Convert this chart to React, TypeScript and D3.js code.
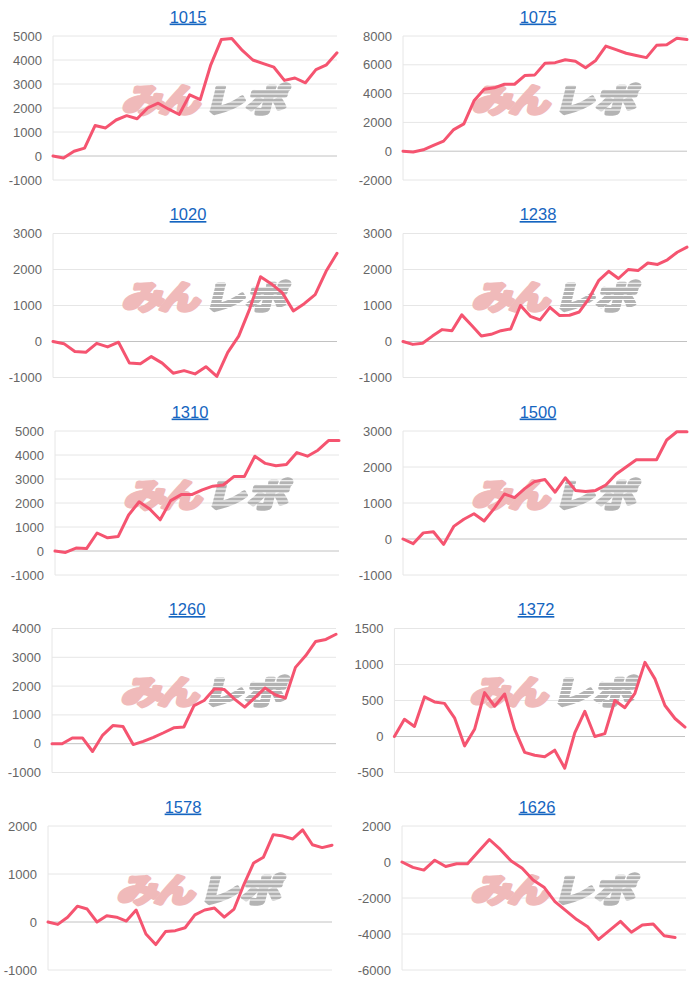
import React from "react";
import * as d3 from "d3";

const W = 700;
const H = 987;

const titles = ["1015", "1075", "1020", "1238", "1310", "1500", "1260", "1372", "1578", "1626"];

const s1015 = [0, -80, 200, 330, 1270, 1170, 1500, 1680, 1550, 2000, 2200, 1950, 1730, 2550, 2350, 3800, 4850, 4900, 4400, 4000, 3850, 3700, 3150, 3250, 3050, 3600, 3800, 4300];
const s1075 = [0, -50, 100, 400, 700, 1500, 1900, 3500, 4300, 4400, 4650, 4650, 5250, 5300, 6100, 6150, 6350, 6250, 5800, 6300, 7300, 7050, 6800, 6650, 6500, 7350, 7400, 7850, 7750];
const s1020 = [0, -60, -280, -300, -50, -150, -20, -600, -620, -420, -600, -880, -810, -900, -700, -970, -300, 150, 900, 1800, 1600, 1350, 850, 1050, 1300, 1950, 2450];
const s1238 = [0, -80, -50, 150, 330, 300, 740, 450, 150, 200, 300, 350, 1000, 700, 600, 950, 720, 730, 820, 1200, 1700, 1950, 1750, 2000, 1970, 2180, 2140, 2270, 2480, 2620];
const s1310 = [0, -60, 120, 100, 750, 550, 600, 1500, 2050, 1750, 1300, 2100, 2350, 2350, 2550, 2700, 2750, 3100, 3100, 3950, 3650, 3550, 3600, 4100, 3950, 4200, 4600, 4600];
const s1500 = [0, -130, 170, 200, -150, 350, 550, 700, 500, 850, 1250, 1150, 1400, 1600, 1650, 1300, 1700, 1350, 1320, 1350, 1500, 1800, 2000, 2200, 2200, 2200, 2750, 2980, 2980];
const s1260 = [0, 0, 200, 200, -270, 300, 630, 600, -30, 80, 220, 380, 550, 580, 1320, 1500, 1900, 1880, 1550, 1270, 1600, 1930, 1700, 1580, 2650, 3050, 3550, 3620, 3800];
const s1372 = [0, 240, 140, 550, 480, 460, 260, -130, 100, 610, 420, 590, 100, -220, -260, -280, -190, -440, 50, 350, 0, 40, 500, 400, 600, 1030, 800, 430, 250, 130];
const s1578 = [0, -50, 100, 330, 270, 0, 130, 100, 20, 250, -250, -470, -200, -180, -120, 150, 250, 290, 100, 270, 780, 1230, 1350, 1820, 1790, 1730, 1920, 1610, 1550, 1600];
const s1626: (number | null)[] = [0, -300, -450, 100, -250, -100, -100, 580, 1250, 700, 50, -350, -1000, -1400, -2200, -2700, -3200, -3600, -4300, -3800, -3300, -3900, -3500, -3450, -4100, -4200, null];

const series: (number | null)[][] = [s1015, s1075, s1020, s1238, s1310, s1500, s1260, s1372, s1578, s1626];

const ticks1015 = [-1000, 0, 1000, 2000, 3000, 4000, 5000];
const ticks1075 = [-2000, 0, 2000, 4000, 6000, 8000];
const ticks1020 = [-1000, 0, 1000, 2000, 3000];
const ticks1238 = [-1000, 0, 1000, 2000, 3000];
const ticks1310 = [-1000, 0, 1000, 2000, 3000, 4000, 5000];
const ticks1500 = [-1000, 0, 1000, 2000, 3000];
const ticks1260 = [-1000, 0, 1000, 2000, 3000, 4000];
const ticks1372 = [-500, 0, 500, 1000, 1500];
const ticks1578 = [-1000, 0, 1000, 2000];
const ticks1626 = [-6000, -4000, -2000, 0, 2000];

const tickSets = [ticks1015, ticks1075, ticks1020, ticks1238, ticks1310, ticks1500, ticks1260, ticks1372, ticks1578, ticks1626];

// layout: horizontal shift of each panel
const shifts = [0, 0, 0, 0, 2, 0, -1, -2, -5, -1];

const LINE = "rgb(245,84,112)";
const FONT = "'Liberation Sans', Arial, Helvetica, sans-serif";
const JP = "'Noto Sans CJK JP', sans-serif";

function Watermark({ cx, cy }: { cx: number; cy: number }) {
  return (
    <g transform={`translate(${cx},${cy})`} pointerEvents="none">
      <g transform="skewX(-14) scale(1.12,0.9)">
        <text
          x={-5}
          y={1}
          textAnchor="end"
          dominantBaseline="central"
          fontFamily={JP}
          fontWeight={700}
          fontSize={36}
          fill="#f0baba"
          stroke="#f0baba"
          strokeWidth={4.5}
          strokeLinejoin="round"
          letterSpacing={-3}
        >
          みん
        </text>
        <text
          x={2}
          y={1}
          textAnchor="start"
          dominantBaseline="central"
          fontFamily={JP}
          fontWeight={700}
          fontSize={36}
          fill="#b3b3b3"
          stroke="#b3b3b3"
          strokeWidth={4}
          strokeLinejoin="round"
          letterSpacing={1}
          mask="url(#stripes)"
        >
          レポ
        </text>
      </g>
    </g>
  );
}

function Panel({ i }: { i: number }) {
  const col = i % 2;
  const row = Math.floor(i / 2);
  const px = col * 350 + shifts[i];
  const py = row * 197.5;
  const ticks = tickSets[i];
  const maxLen = d3.max(ticks, (t) => String(t).length) as number;
  const left = px + 20 + 6.6 * maxLen;
  const right = px + 337;
  const top = py + 36;
  const bottom = py + 180;
  const data = series[i];
  const y = d3.scaleLinear().domain(d3.extent(ticks) as [number, number]).range([bottom, top]);
  const x = d3.scaleLinear().domain([0, data.length - 1]).range([left, right]);
  const line = d3
    .line<number | null>()
    .defined((d) => d != null)
    .x((_, j) => x(j))
    .y((d) => y(d as number));

  return (
    <g>
      <text
        x={px + 188}
        y={py + 22.5}
        textAnchor="middle"
        fontFamily={FONT}
        fontSize={16.5}
        fill="#1565c0"
        textDecoration="underline"
      >
        {titles[i]}
      </text>
      {ticks.map((t) => (
        <line
          key={"g" + t}
          x1={left}
          x2={right}
          y1={y(t)}
          y2={y(t)}
          stroke={t === 0 ? "#c2c2c2" : "#e6e6e6"}
          strokeWidth={1}
        />
      ))}
      <line x1={left} x2={left} y1={top} y2={bottom} stroke="#e6e6e6" strokeWidth={1} />
      {ticks.map((t) => (
        <text
          key={"t" + t}
          x={left - 11}
          y={y(t)}
          textAnchor="end"
          dominantBaseline="central"
          fontFamily={FONT}
          fontSize={13}
          fill="#666"
        >
          {t}
        </text>
      ))}
      <Watermark cx={px + 205} cy={py + 97} />
      <path d={line(data) || ""} fill="none" stroke={LINE} strokeWidth={3} strokeLinejoin="round" strokeLinecap="round" />
    </g>
  );
}

export default function App() {
  const stripeYs = d3.range(-13, 16, 4.5);
  return (
    <svg width={W} height={H} style={{ position: "absolute", left: 0, top: 0, background: "#fff" }}>
      <defs>
        <mask id="stripes" maskUnits="userSpaceOnUse" x={-20} y={-40} width={160} height={80}>
          <rect x={-20} y={-40} width={160} height={80} fill="white" />
          {stripeYs.map((s) => (
            <rect key={s} x={-20} y={s} width={160} height={1.1} fill="black" />
          ))}
        </mask>
      </defs>
      <rect width={W} height={H} fill="#fff" />
      {titles.map((_, i) => (
        <Panel key={i} i={i} />
      ))}
    </svg>
  );
}
